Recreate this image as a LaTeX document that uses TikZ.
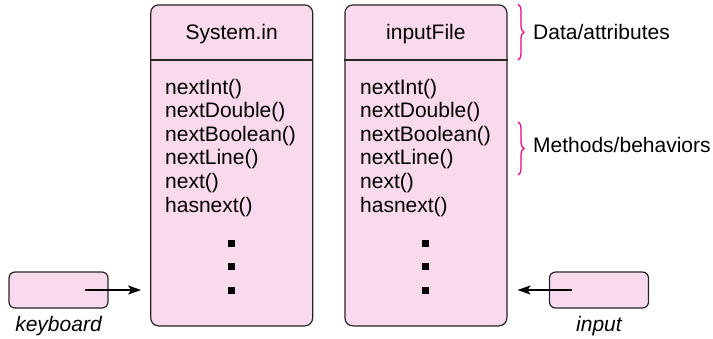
\documentclass[tikz,border=0pt]{standalone}
\usepackage{fontspec}
\setmainfont{Liberation Sans}
\usetikzlibrary{arrows.meta, positioning, decorations.pathreplacing}
\definecolor{objpink}{RGB}{249,217,236}
\definecolor{bracepink}{RGB}{232,0,128}
\tikzset{
  objbox/.style={rectangle, draw=black!85, line width=1.2pt, rounded corners=8pt, fill=objpink,
                 minimum width=162pt, minimum height=321pt, inner sep=0pt},
  devbox/.style={rectangle, draw=black!85, line width=1.2pt, rounded corners=6pt, fill=objpink,
                 minimum width=99pt, minimum height=36pt, inner sep=0pt},
  txt/.style={font=\fontsize{21}{24}\selectfont, inner sep=0pt},
  method/.style={txt, anchor=base west},
  devlabel/.style={txt, anchor=base, font=\fontsize{21}{24}\selectfont\itshape},
  dot/.style={rectangle, fill=black, minimum size=7pt, inner sep=0pt},
  divider/.style={draw=black!85, line width=1.2pt},
  arrow/.style={-{Stealth[length=13pt,width=9pt,inset=3pt]}, line width=2pt},
  bracket/.style={decorate, decoration={brace, amplitude=6pt}, draw=bracepink, line width=1.2pt}
}

\begin{document}
\begin{tikzpicture}[x=1pt, y=-1pt]
  \useasboundingbox (0,0) rectangle (713,338);

  % the two objects
  \node[objbox] (sysbox) at (231.7,165.4) {};
  \node[objbox] (inpbox) at (425.9,165.4) {};
  \draw[divider] (sysbox.west |- 0,60) -- (sysbox.east |- 0,60);
  \draw[divider] (inpbox.west |- 0,60) -- (inpbox.east |- 0,60);
  \node[txt, anchor=base] (sysname) at (sysbox.center |- 0,39.5) {System.in};
  \node[txt, anchor=base] (inpname) at (inpbox.center |- 0,39.5) {inputFile};

  % method lists and dots
  \foreach \obj/\x in {sys/165, inp/360} {
    \foreach \m [count=\i] in {nextInt(), nextDouble(), nextBoolean(), nextLine(), next(), hasnext()}
      \node[method] (\obj-m\i) at (\x, {94+23.6*(\i-1)}) {\m};
    \foreach \y [count=\j] in {243, 266.5, 290}
      \node[dot] (\obj-d\j) at (\obj box.center |- 0,\y) {};
  }

  % devices
  \node[devbox] (kbd) at (58.5,290) {};
  \node[devlabel] (kbdlbl) at (58.5,331) {keyboard};
  \node[devbox] (file) at (599,290) {};
  \node[devlabel] (filelbl) at (599,331) {input};

  \draw[arrow, shorten >=9pt] ([xshift=26.5pt]kbd.center) -- (sysbox.west |- kbd);
  \draw[arrow, shorten >=10pt] ([xshift=-27pt]file.center) -- (inpbox.east |- file);

  % braces
  \draw[bracket] ([xshift=10.5pt]inpbox.north east) -- ([xshift=10.5pt]inpbox.east |- 0,60);
  \draw[bracket] ([xshift=10.5pt]inpbox.east |- 0,122) -- ([xshift=10.5pt]inpbox.east |- 0,175);
  \node[txt, anchor=base west] (datalbl) at (533,39.5) {Data/attributes};
  \node[txt, anchor=base west] (methlbl) at (533,152.5) {Methods/behaviors};
\end{tikzpicture}
\end{document}
